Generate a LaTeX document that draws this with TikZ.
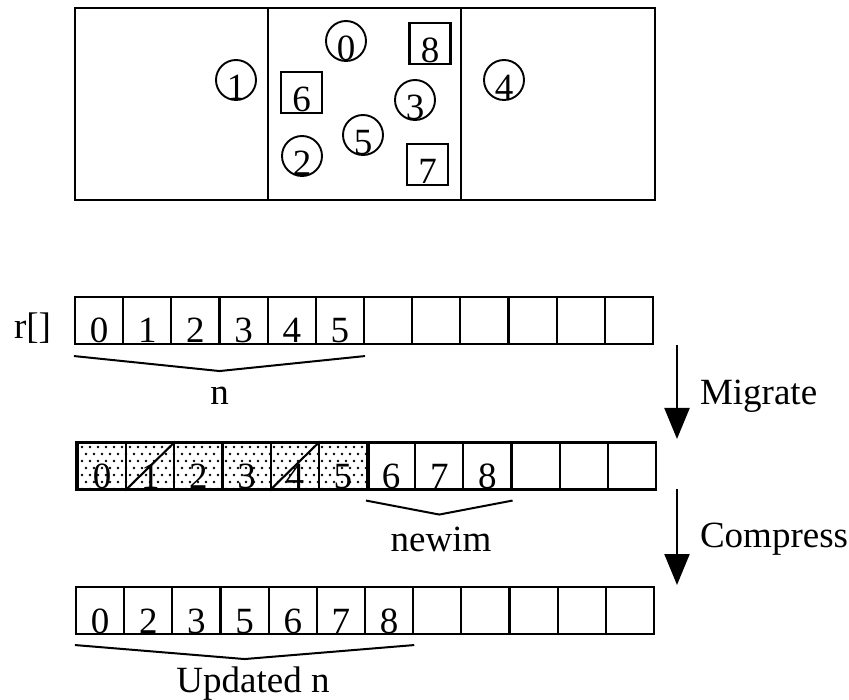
\documentclass[tikz,border=0pt]{standalone}
\usepackage{fontspec}
\setmainfont{Liberation Serif}
\usetikzlibrary{arrows.meta,calc}
\begin{document}
\begin{tikzpicture}[x=1pt,y=-1pt,
  line width=2.1pt,
  font=\fontsize{37}{40}\selectfont,
  cell/.style={draw,rectangle,minimum width=48.17pt,minimum height=47pt,
    inner sep=0pt,text height=45pt,text depth=0pt},
  ring/.style={draw,circle,minimum size=40pt,inner sep=0pt,line width=1.9pt},
  sq/.style={draw,rectangle,minimum size=41pt,inner sep=0pt,
    text height=39pt,text depth=0pt},
  digit/.style={anchor=base,inner sep=0pt},
  txt/.style={anchor=base,inner sep=0pt},
  brace/.style={line width=2pt,line join=miter},
  flow/.style={line width=2.2pt,-{Triangle[length=31pt,width=25pt]}},
  dot/.style={fill=black}
]
\useasboundingbox (0,0) rectangle (849,700);

% ---- space split into three regions ----
\draw (75,8) rectangle (655,200);
\draw (268,8) -- (268,200);
\draw (461,8) -- (461,200);

% particles held in circles
\foreach \n/\px/\py in {1/236/80, 0/346/41, 3/415/100, 5/363/135, 2/302/156, 4/504/80}{
  \node[ring] (c\n) at (\px,\py) {};
  \node[digit] (c\n t) at ([yshift=1.5pt]c\n.south) {\n};
}
% new particles in squares
\node[sq] (s8) at (430,43.5) {8};
\node[sq] (s6) at (301.5,92.5) {6};
\node[sq] (s7) at (427.5,164.5) {7};

% ---- array r[] before migration ----
\node[txt,anchor=base west] (rlab) at (13,339) {r[]};
\foreach \v [count=\i from 0] in {0,1,2,3,4,5,{},{},{},{},{},{}}{
  \node[cell] (r1c\i) at ({75+48.17*(\i+0.5)},320.5) {\v};
}
\coordinate (nL) at ([yshift=-11pt]r1c0.south west);
\coordinate (nR) at ([yshift=-11pt]r1c5.south east);
\coordinate (nA) at ($(r1c0.south west)!0.5!(r1c5.south east)+(0,26)$);
\draw[brace] (nL) -- (nA) -- (nR);
\node[txt] (nlab) at (219.5,405) {n};

% ---- migrate step ----
\coordinate (m1) at (677,345);
\coordinate (m2) at (677,439);
\draw[flow] (m1) -- (m2);
\node[txt,anchor=base west] (mlab) at (699,405) {Migrate};

% ---- array after migration: shaded entries are the old ones ----
\begin{scope}
  \clip (78,442) rectangle (367,490);
  \foreach \row in {0,...,6}{
    \foreach \col in {0,...,36}{
      \pgfmathsetmacro{\dx}{82+\col*8+mod(\row,2)*4}
      \fill[dot] (\dx,{447+\row*7}) circle (1.3pt);
    }
  }
\end{scope}
\foreach \v [count=\i from 0] in {0,1,2,3,4,5,6,7,8,{},{},{}}{
  \node[cell] (r2c\i) at ({78+48.17*(\i+0.5)},466) {\v};
}
\draw[line width=3.6pt] (r2c0.north west) -- (r2c0.south west);
\draw[line width=3.6pt] (r2c5.north east) -- (r2c5.south east);
\draw (r2c1.south west) -- (r2c1.north east);
\draw (r2c4.south west) -- (r2c4.north east);

\coordinate (wL) at ([yshift=-10pt]r2c6.south west);
\coordinate (wR) at ([yshift=-10pt]r2c8.south east);
\coordinate (wA) at ($(r2c6.south west)!0.5!(r2c8.south east)+(0,24)$);
\draw[brace] (wL) -- (wA) -- (wR);
\node[txt] (wlab) at (441,551) {newim};

% ---- compress step ----
\coordinate (k1) at (677,489);
\coordinate (k2) at (677,585);
\draw[flow] (k1) -- (k2);
\node[txt,anchor=base west] (klab) at (699,547) {Compress};

% ---- array after compression ----
\foreach \v [count=\i from 0] in {0,2,3,5,6,7,8,{},{},{},{},{}}{
  \node[cell] (r3c\i) at ({76+48.17*(\i+0.5)},610.5) {\v};
}
\coordinate (uL) at ([yshift=-10pt]r3c0.south west);
\coordinate (uR) at ([yshift=-10pt]r3c6.south east);
\coordinate (uA) at ($(r3c0.south west)!0.5!(r3c6.south east)+(0,24)$);
\draw[brace] (uL) -- (uA) -- (uR);
\node[txt] (ulab) at (253,692) {Updated n};
\end{tikzpicture}
\end{document}
